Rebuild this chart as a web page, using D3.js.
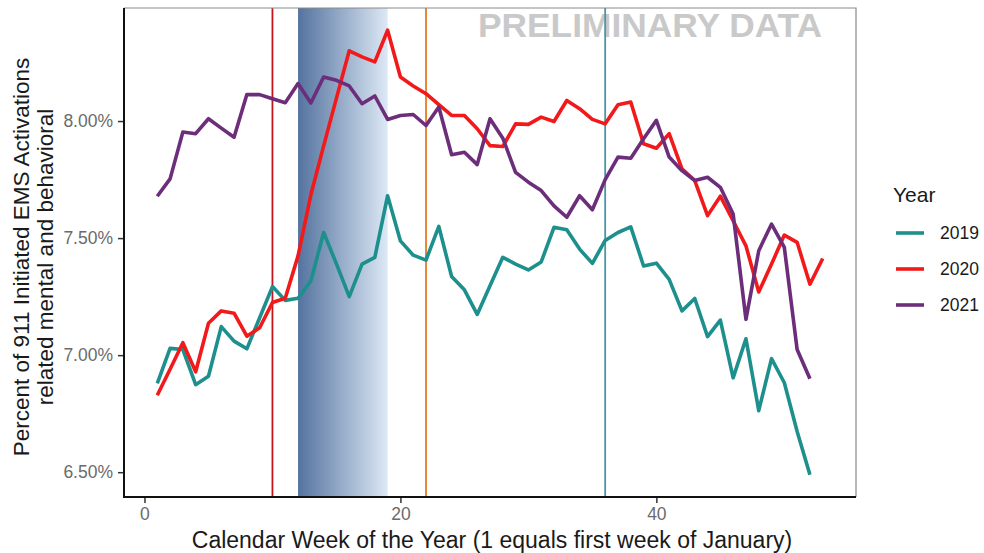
<!DOCTYPE html>
<html lang="en">
  <head>
    <meta charset="UTF-8" />
    <title>EMS activations by week</title>
    <script src="https://cdn.jsdelivr.net/npm/d3@7"></script>
    <style>
      body {
        margin: 0;
        background: #fff;
      }
      svg {
        display: block;
      }
      text {
        font-family: "Liberation Sans", Arial, sans-serif;
      }
    </style>
  </head>
  <body>
    <svg width="984" height="553"></svg>
    <script>
      // weekly values, week 1 = first entry
      const years = ["2019", "2020", "2021"];
      const values2019 = [
        6.879, 7.029, 7.024, 6.874, 6.91, 7.122, 7.06, 7.027, 7.16, 7.293,
        7.234, 7.243, 7.317, 7.524, 7.39, 7.25, 7.389, 7.418, 7.681, 7.488,
        7.427, 7.406, 7.55, 7.336, 7.279, 7.174, 7.296, 7.418, 7.389, 7.364,
        7.398, 7.546, 7.536, 7.453, 7.392, 7.49, 7.524, 7.548, 7.381, 7.393,
        7.324, 7.189, 7.242, 7.079, 7.15, 6.903, 7.07, 6.763, 6.985, 6.882,
        6.674, 6.489,
      ];
      const values2020 = [
        6.829, 6.94, 7.053, 6.929, 7.136, 7.189, 7.179, 7.081, 7.117, 7.225,
        7.243, 7.424, 7.685, 7.894, 8.098, 8.3, 8.274, 8.253, 8.388, 8.188,
        8.15, 8.117, 8.07, 8.024, 8.024, 7.967, 7.895, 7.891, 7.988, 7.986,
        8.017, 7.998, 8.088, 8.053, 8.007, 7.988, 8.07, 8.081, 7.903, 7.884,
        7.946, 7.796, 7.746, 7.596, 7.679, 7.574, 7.467, 7.27, 7.389, 7.513,
        7.482, 7.303, 7.413,
      ];
      const values2021 = [
        7.679, 7.753, 7.953, 7.946, 8.01, 7.97, 7.931, 8.113, 8.113, 8.095,
        8.078, 8.16, 8.077, 8.188, 8.174, 8.15, 8.074, 8.107, 8.007, 8.024,
        8.028, 7.981, 8.06, 7.856, 7.867, 7.814, 8.01, 7.927, 7.781, 7.739,
        7.703, 7.638, 7.589, 7.681, 7.621, 7.75, 7.846, 7.841, 7.924, 8.003,
        7.846, 7.788, 7.746, 7.76, 7.717, 7.603, 7.153, 7.446, 7.56, 7.46,
        7.024, 6.899,
      ];
      const xTicks = [0, 20, 40];
      const yTicks = [6.5, 7.0, 7.5, 8.0];
      const eventWeeks = [10, 22, 36];
      const shadeWeeks = [12, 19];

      const lineColors = ["#1d8f8c", "#f2191b", "#6c2e7b"];
      const eventColors = ["#c4151c", "#e67a22", "#4b95a9"];

      const svg = d3.select("svg");
      const panel = { left: 124, right: 856, top: 8, bottom: 497 };

      const series = [values2019, values2020, values2021].map((vals, i) => ({
        year: years[i],
        points: vals.map((v, j) => ({ week: j + 1, value: v })),
      }));
      const allPoints = series.flatMap((s) => s.points);

      // ggplot style 5% padding
      const wExt = d3.extent(allPoints, (d) => d.week);
      const vExt = d3.extent(allPoints, (d) => d.value);
      const wPad = (wExt[1] - wExt[0]) * 0.05;
      const vPad = (vExt[1] - vExt[0]) * 0.05;

      const x = d3.scaleLinear()
        .domain([wExt[0] - wPad, wExt[1] + wPad])
        .range([panel.left, panel.right]);
      const y = d3.scaleLinear()
        .domain([vExt[0] - vPad, vExt[1] + vPad])
        .range([panel.bottom, panel.top]);
      const color = d3.scaleOrdinal(years, lineColors);

      const grad = svg.append("defs").append("linearGradient")
        .attr("id", "shade")
        .attr("x1", "0%").attr("x2", "100%")
        .attr("y1", "0%").attr("y2", "0%");
      grad.append("stop").attr("offset", "0%").attr("stop-color", "#54739f");
      grad.append("stop").attr("offset", "100%").attr("stop-color", "#dce8f5");

      svg.append("rect")
        .attr("x", x(shadeWeeks[0]))
        .attr("y", panel.top)
        .attr("width", x(shadeWeeks[1]) - x(shadeWeeks[0]))
        .attr("height", panel.bottom - panel.top)
        .attr("fill", "url(#shade)");

      svg.append("text")
        .attr("x", 478)
        .attr("y", 37)
        .attr("font-size", 34)
        .attr("font-weight", "bold")
        .attr("fill", "#c9c9c9")
        .attr("textLength", 344)
        .attr("lengthAdjust", "spacingAndGlyphs")
        .text("PRELIMINARY DATA");

      svg.selectAll(".event")
        .data(eventWeeks)
        .enter()
        .append("line")
        .attr("class", "event")
        .attr("x1", (d) => x(d))
        .attr("x2", (d) => x(d))
        .attr("y1", panel.top)
        .attr("y2", panel.bottom)
        .attr("stroke", (d, i) => eventColors[i])
        .attr("stroke-width", 1.8);

      const line = d3.line()
        .x((d) => x(d.week))
        .y((d) => y(d.value));

      svg.selectAll(".series")
        .data(series)
        .enter()
        .append("path")
        .attr("class", "series")
        .attr("d", (d) => line(d.points))
        .attr("fill", "none")
        .attr("stroke", (d) => color(d.year))
        .attr("stroke-width", 3.6)
        .attr("stroke-linejoin", "round");

      // panel border: grey top/right, black axis lines
      svg.append("path")
        .attr("d", `M${panel.left},${panel.top}H${panel.right}V${panel.bottom}`)
        .attr("fill", "none")
        .attr("stroke", "#8a8a8a")
        .attr("stroke-width", 1.2);

      const xAxis = svg.append("g")
        .attr("transform", `translate(0,${panel.bottom})`)
        .call(d3.axisBottom(x).tickValues(xTicks).tickSize(6).tickPadding(5));
      const yAxis = svg.append("g")
        .attr("transform", `translate(${panel.left},0)`)
        .call(d3.axisLeft(y).tickValues(yTicks).tickSize(6).tickPadding(5)
          .tickFormat((d) => d3.format(".2f")(d) + "%"));

      [xAxis, yAxis].forEach((g) => {
        g.select(".domain").remove();
        g.selectAll(".tick line").attr("stroke", "#333").attr("stroke-width", 1.5);
        g.selectAll(".tick text")
          .attr("fill", "#6b6b6b")
          .attr("font-size", 17.5)
          .attr("font-family", "'Liberation Sans', Arial, sans-serif");
      });

      svg.append("line")
        .attr("x1", panel.left).attr("x2", panel.left)
        .attr("y1", panel.top).attr("y2", panel.bottom + 1)
        .attr("stroke", "#111").attr("stroke-width", 2);
      svg.append("line")
        .attr("x1", panel.left - 1).attr("x2", panel.right)
        .attr("y1", panel.bottom).attr("y2", panel.bottom)
        .attr("stroke", "#111").attr("stroke-width", 2);

      svg.append("text")
        .attr("x", 492)
        .attr("y", 548)
        .attr("text-anchor", "middle")
        .attr("font-size", 23)
        .attr("fill", "#1a1a1a")
        .text("Calendar Week of the Year (1 equals first week of January)");

      const yTitle = svg.append("text")
        .attr("transform", "translate(0,257) rotate(-90)")
        .attr("text-anchor", "middle")
        .attr("font-size", 22.5)
        .attr("fill", "#1a1a1a");
      yTitle.append("tspan").attr("x", 0).attr("y", 29)
        .text("Percent of 911 Initiated EMS Activations");
      yTitle.append("tspan").attr("x", 0).attr("y", 53)
        .text("related mental and behavioral");

      // legend
      const legend = svg.append("g").attr("transform", "translate(893,0)");
      legend.append("text")
        .attr("x", 0).attr("y", 202)
        .attr("font-size", 21)
        .attr("fill", "#1a1a1a")
        .text("Year");
      const item = legend.selectAll(".item")
        .data(years)
        .enter()
        .append("g")
        .attr("class", "item")
        .attr("transform", (d, i) => `translate(0,${233 + i * 36})`);
      item.append("line")
        .attr("x1", 3).attr("x2", 31)
        .attr("stroke", (d) => color(d))
        .attr("stroke-width", 3.6);
      item.append("text")
        .attr("x", 47).attr("y", 6)
        .attr("font-size", 17.5)
        .attr("fill", "#1a1a1a")
        .text((d) => d);
    </script>
  </body>
</html>
